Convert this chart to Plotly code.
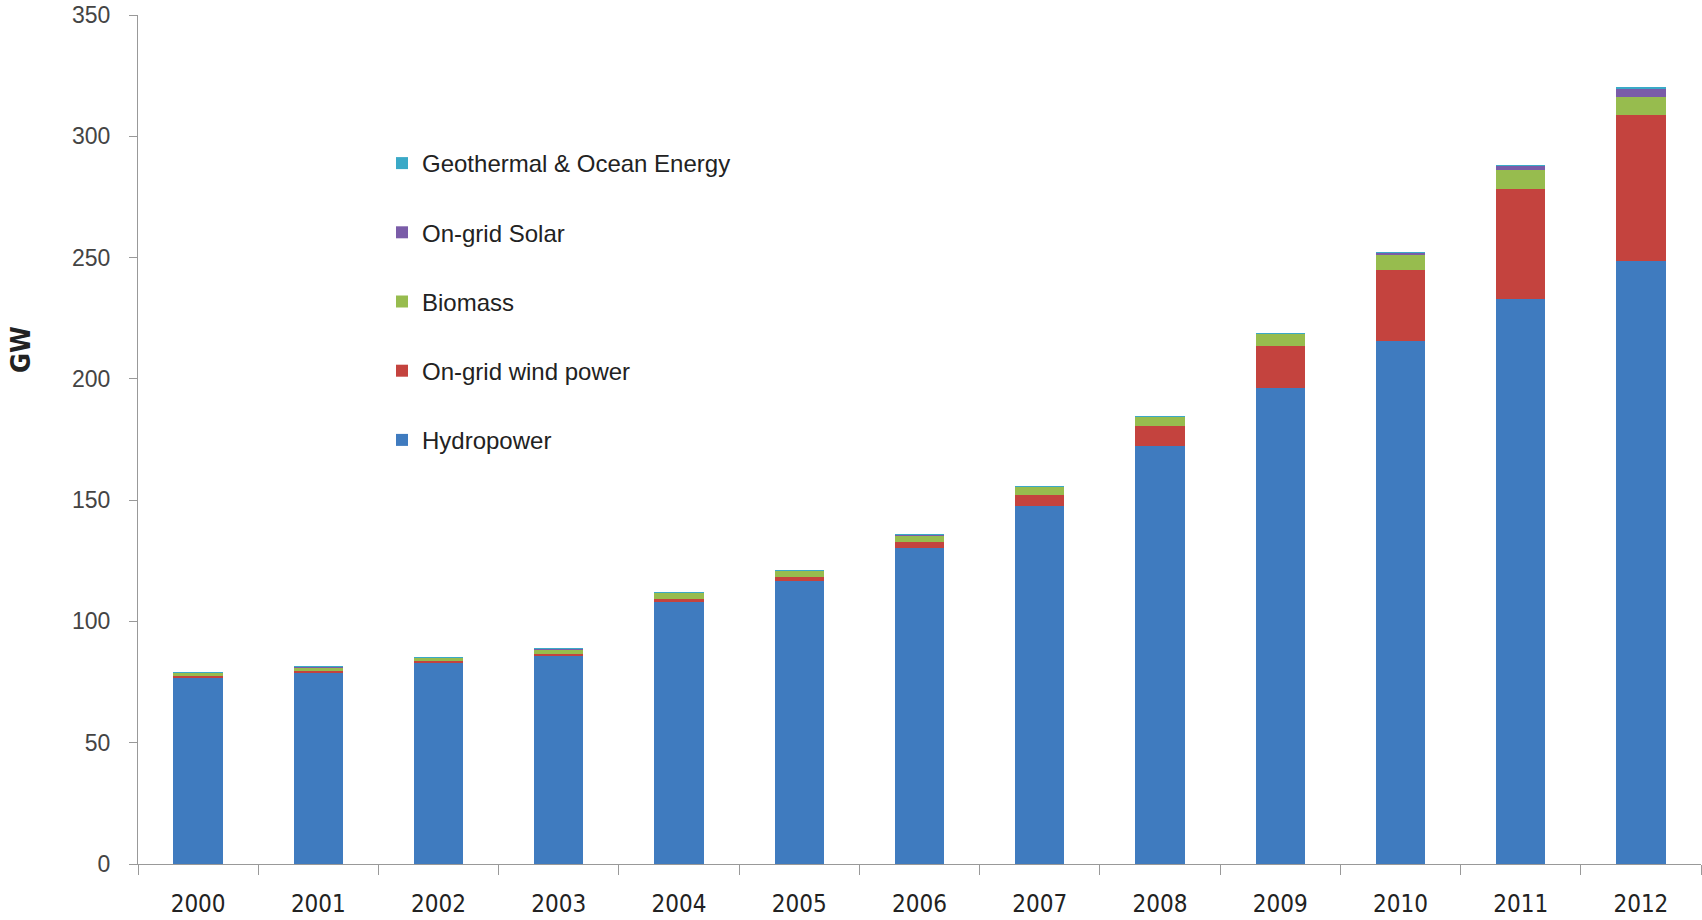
import plotly.graph_objects as go

years = [str(y) for y in range(2000, 2013)]
hydro = [77.0, 79.0, 83.0, 85.8, 108.4, 116.8, 130.2, 147.7, 172.2, 196.1, 215.8, 232.8, 248.6]
wind = [0.3, 0.4, 0.5, 0.6, 0.8, 1.4, 2.4, 4.4, 8.4, 17.5, 29.1, 45.5, 60.2]
biomass = [1.6, 1.8, 1.7, 2.2, 2.6, 2.7, 3.0, 3.5, 3.8, 4.9, 6.3, 7.6, 7.6]
solar = [0.02, 0.03, 0.04, 0.05, 0.06, 0.07, 0.08, 0.1, 0.14, 0.3, 0.8, 2.1, 3.5]
geo = [0.01] * 13

series = [
    ("Hydropower", hydro, "#3F7BBF"),
    ("On-grid wind power", wind, "#C4433E"),
    ("Biomass", biomass, "#97BC4E"),
    ("On-grid Solar", solar, "#7A5CA8"),
    ("Geothermal & Ocean Energy", geo, "#3AA9C7"),
]

W, H = 1702, 920
L, T, B, R = 138, 15, 56, 1
plot_w = W - L - R
plot_h = H - T - B

fig = go.Figure()
for i, (name, vals, col) in enumerate(series):
    fig.add_trace(go.Bar(x=years, y=vals, name=name, marker_color=col,
                         marker_line_width=0, legendgroup=name,
                         legendrank=len(series) - i))

fig.update_layout(
    barmode="stack",
    bargap=0.59,
    width=W, height=H,
    margin=dict(l=L, r=R, t=T, b=B),
    paper_bgcolor="white", plot_bgcolor="white",
    font=dict(family="Liberation Sans, Arial", color="#333333"),
    legend=dict(x=(382 - L) / plot_w, y=1 - (141 - T) / plot_h,
                xanchor="left", yanchor="top",
                traceorder="grouped", tracegroupgap=35,
                font=dict(size=24, color="#222222"), bgcolor="rgba(0,0,0,0)"),
    showlegend=True,
)
fig.update_xaxes(type="category", showline=True, linecolor="#999999", linewidth=1,
                 ticks="outside", tickson="boundaries", ticklen=10, tickcolor="#999999",
                 ticklabelstandoff=18,
                 tickfont=dict(family="DejaVu Sans Condensed, Liberation Sans", size=24, color="#222222"),
                 showgrid=False)
fig.update_yaxes(range=[0, 350], tickvals=[0, 50, 100, 150, 200, 250, 300, 350],
                 showline=True, linecolor="#999999", linewidth=1,
                 ticks="outside", ticklen=8, tickcolor="#999999",
                 ticklabelstandoff=14,
                 tickfont=dict(size=23, color="#444444"), showgrid=False, zeroline=False)
fig.add_annotation(text="<b>GW</b>", x=(21 - L) / plot_w, y=1 - (350 - T) / plot_h,
                   xref="paper", yref="paper", showarrow=False, xanchor="center", yanchor="middle",
                   textangle=-90,
                   font=dict(family="DejaVu Sans Condensed, Liberation Sans", size=27, color="#222222"))
fig.write_html("out.html", config={"displayModeBar": False},
               post_script="document.body.style.margin='0';document.body.style.padding='0';")
